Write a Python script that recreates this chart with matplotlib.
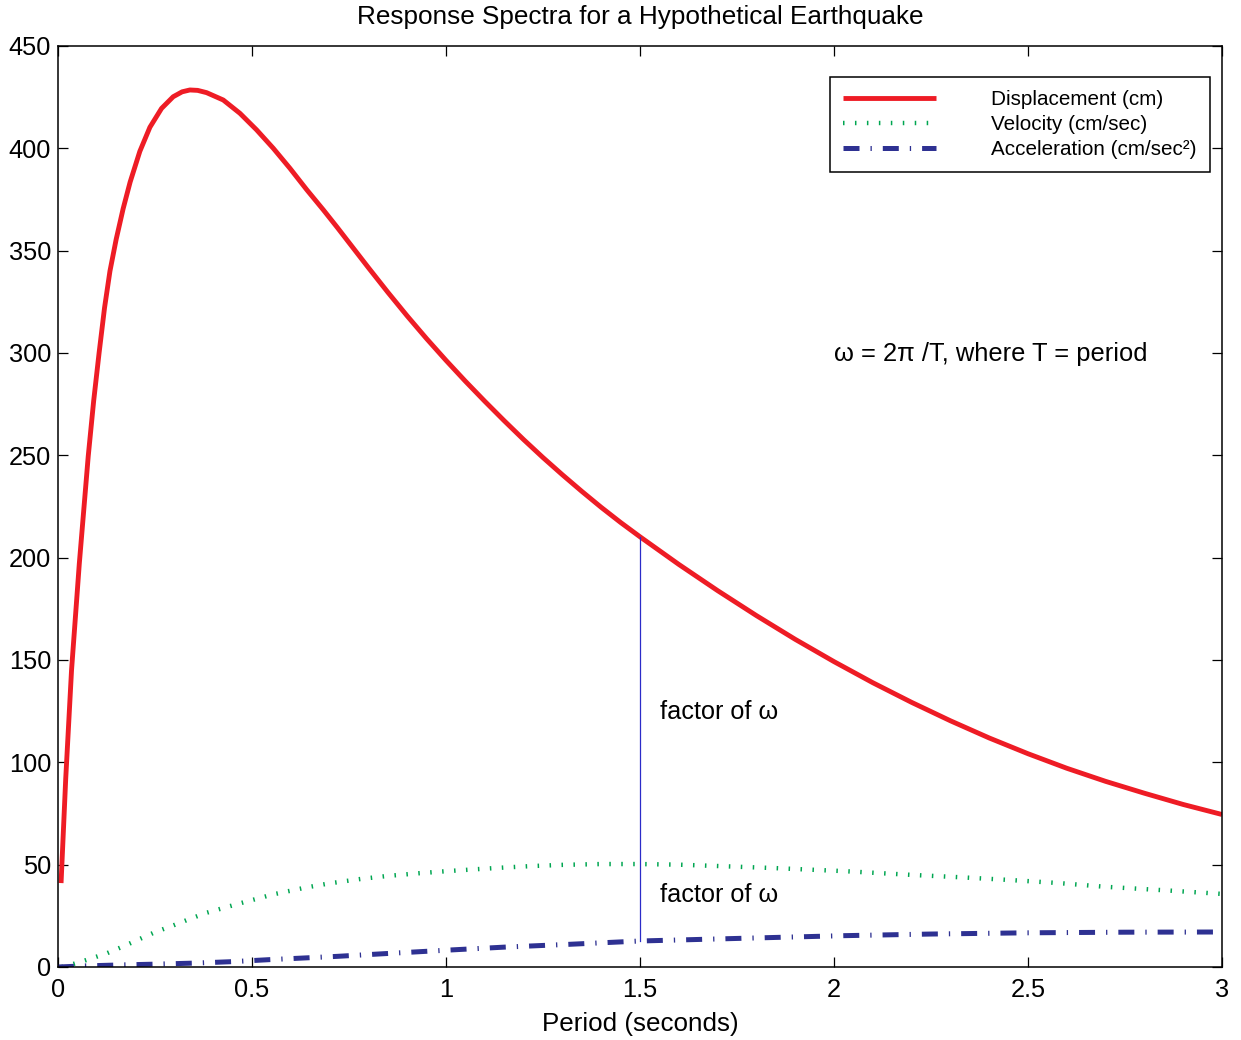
import numpy as np
import matplotlib
matplotlib.use('Agg')
import matplotlib.pyplot as plt

plt.rcParams['font.family'] = ['Liberation Sans', 'DejaVu Sans']

# values
disp_T = [0.008, 0.02, 0.035, 0.055, 0.078, 0.092, 0.106, 0.12, 0.134, 0.15,
          0.168, 0.186, 0.211, 0.237, 0.267, 0.297, 0.32, 0.34, 0.36, 0.383,
          0.426, 0.469, 0.512, 0.555, 0.598, 0.641, 0.684, 0.72, 0.76, 0.8,
          0.85, 0.9, 0.95, 1.0, 1.05, 1.1, 1.15, 1.2, 1.25, 1.3,
          1.35, 1.4, 1.45, 1.5, 1.6, 1.7, 1.8, 1.9, 2.0, 2.1,
          2.2, 2.3, 2.4, 2.5, 2.6, 2.7, 2.8, 2.9, 3.0]
disp_cm = [41.0, 92.0, 145.0, 197.0, 249.5, 276.5, 300.0, 322.0, 340.0, 355.5,
           370.5, 383.5, 398.5, 410.3, 419.5, 425.2, 427.6, 428.5, 428.3, 427.2,
           423.6, 417.1, 409.0, 400.0, 390.2, 379.8, 369.9, 361.3, 351.5, 341.7,
           329.7, 318.1, 307.0, 296.4, 286.2, 276.4, 266.9, 257.7, 248.9, 240.5,
           232.4, 224.6, 217.2, 210.2, 196.7, 183.9, 171.7, 160.1, 149.2, 138.9,
           129.3, 120.3, 111.9, 104.2, 97.1, 90.7, 84.9, 79.4, 74.5]

vel_T = [0.01, 0.04, 0.08, 0.126, 0.17, 0.211, 0.25, 0.297, 0.34, 0.383,
         0.469, 0.555, 0.641, 0.701, 0.78, 0.85, 0.93, 1.0, 1.08, 1.15,
         1.22, 1.3, 1.4, 1.5, 1.6, 1.72, 1.85, 2.03, 2.2, 2.33,
         2.454, 2.58, 2.698, 2.85, 3.0]
vel = [0.0, 1.5, 3.8, 6.7, 10.2, 13.7, 17.0, 20.3, 23.5, 26.5,
       31.1, 35.5, 38.9, 40.9, 43.0, 44.5, 45.8, 46.8, 47.8, 48.6,
       49.3, 49.9, 50.3, 50.3, 50.0, 49.2, 48.3, 46.8, 45.0, 43.8,
       42.5, 41.0, 39.2, 37.5, 35.7]

acc_T = [0.0, 0.065, 0.16, 0.254, 0.353, 0.448, 0.546, 0.645, 0.72, 0.85,
         1.0, 1.15, 1.32, 1.5, 1.72, 2.024, 2.25, 2.497, 2.75, 3.0]
acc = [0.0, 0.5, 1.0, 1.4, 1.9, 2.6, 3.6, 4.5, 5.2, 6.6,
       8.2, 9.7, 11.1, 12.7, 13.8, 15.3, 16.1, 16.7, 17.0, 17.1]

factor_T = 1.5
factor_lo = 12.7
factor_hi = 210.2

fig = plt.figure(figsize=(12.41, 10.40), dpi=100)
ax = fig.add_axes([0.0467, 0.0702, 0.938, 0.8856])

ax.plot(disp_T, disp_cm, color='#ee1c25', lw=3.5, label='Displacement (cm)',
        solid_capstyle='butt', solid_joinstyle='round')
ax.plot(vel_T, vel, color='#00a651', lw=3.2, linestyle=(0, (0.34, 2.35)),
        dash_capstyle='butt', label='Velocity (cm/sec)')
ax.plot(acc_T, acc, color='#2e3192', lw=3.6, linestyle=(0, (3.2, 2.2, 0.26, 2.2)),
        dash_capstyle='butt', label='Acceleration (cm/sec²)')
ax.plot([factor_T, factor_T], [factor_lo, factor_hi], color='#2b2bc8', lw=0.9)

ax.text(1.552, 124.6, 'factor of ω', fontsize=18.2, va='center', ha='left')
ax.text(1.552, 35.2, 'factor of ω', fontsize=18.2, va='center', ha='left')
ax.text(2.0, 299.5, 'ω = 2π /T, where T = period', fontsize=18.4, va='center', ha='left')

ax.set_xlim(0, 3)
ax.set_ylim(0, 450)
ax.set_xticks([0, 0.5, 1, 1.5, 2, 2.5, 3])
ax.set_xticklabels(['0', '0.5', '1', '1.5', '2', '2.5', '3'])
ax.set_yticks(np.arange(0, 451, 50))
ax.tick_params(direction='in', length=7, width=0.9, labelsize=18.3,
               top=True, right=True)
ax.tick_params(axis='x', pad=8)
ax.tick_params(axis='y', pad=5)
for s in ax.spines.values():
    s.set_linewidth(1.1)

ax.set_title('Response Spectra for a Hypothetical Earthquake', fontsize=18.8, pad=16)
ax.set_xlabel('Period (seconds)', fontsize=18.7, labelpad=7)

leg = ax.legend(loc='upper right', bbox_to_anchor=(0.9897, 0.9663), fontsize=14.9,
                frameon=True, fancybox=False, shadow=False, framealpha=1,
                edgecolor='black', handlelength=4.5, handletextpad=2.65,
                labelspacing=0.28, borderpad=0.65, borderaxespad=0)
leg.get_frame().set_linewidth(1.1)

fig.savefig('out.png', dpi=100)
